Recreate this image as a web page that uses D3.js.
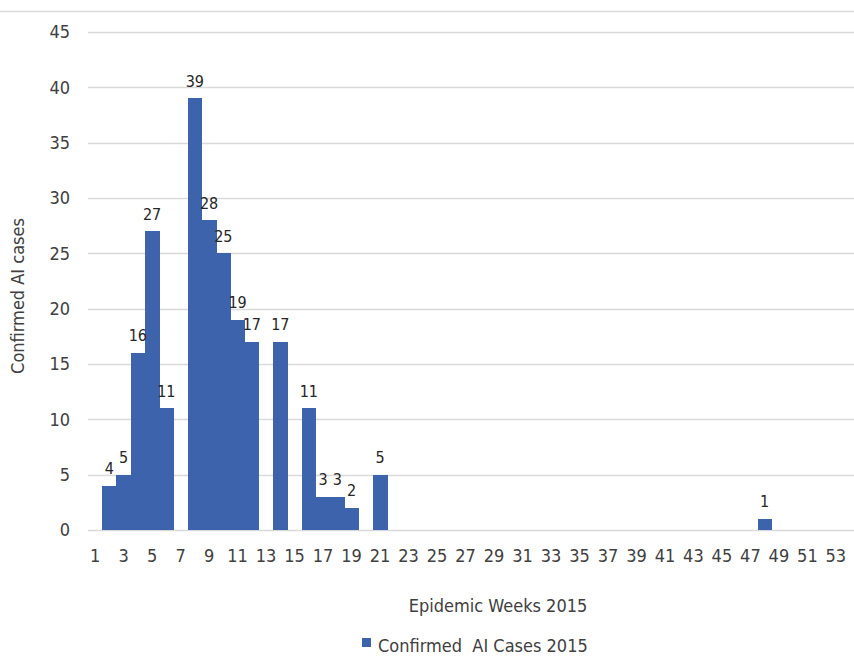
<!DOCTYPE html>
<html>
<head>
<meta charset="utf-8">
<script src="https://cdn.jsdelivr.net/npm/d3@7"></script>
<style>
  html, body { margin: 0; padding: 0; background: #fff; }
  svg { display: block; }
  text { font-family: "Liberation Sans Narrow", "DejaVu Sans Condensed", "Liberation Sans", sans-serif; fill: #404040; }
</style>
</head>
<body>
<script>
// Epidemic weeks 1..53 and confirmed avian influenza cases per week (2015)
const weeks = d3.range(1, 54);
const caseWeeks = [2, 3, 4, 5, 6, 8, 9, 10, 11, 12, 14, 16, 17, 18, 19, 21, 48];
const caseCounts = [4, 5, 16, 27, 11, 39, 28, 25, 19, 17, 17, 11, 3, 3, 2, 5, 1];
const yTicks = [0, 5, 10, 15, 20, 25, 30, 35, 40, 45];
const xTickLabels = weeks.filter(w => w % 2 === 1);
const seriesName = "Confirmed  AI Cases 2015";
const xTitle = "Epidemic Weeks 2015";
const yTitle = "Confirmed AI cases";

const data = caseWeeks.map((w, i) => ({ week: w, value: caseCounts[i] }));

const W = 854, H = 656;
const barColor = "#3c63ac";
const gridColor = "#d9d9d9";

const svg = d3.select("body").append("svg")
  .attr("width", W).attr("height", H);

// frame line at the top of the chart area
svg.append("line")
  .attr("x1", 0).attr("x2", W).attr("y1", 11.5).attr("y2", 11.5)
  .attr("stroke", gridColor).attr("stroke-width", 1.5);

const x = d3.scaleBand().domain(weeks).range([88, 843]).padding(0);
const y = d3.scaleLinear().domain([0, 45]).range([530, 32]);

// horizontal gridlines
svg.append("g").selectAll("line").data(yTicks).join("line")
  .attr("x1", 88).attr("x2", W)
  .attr("y1", d => Math.round(y(d)) + 0.5).attr("y2", d => Math.round(y(d)) + 0.5)
  .attr("stroke", gridColor).attr("stroke-width", 1.5);

// y axis labels
svg.append("g").selectAll("text").data(yTicks).join("text")
  .attr("x", 70).attr("y", d => y(d))
  .attr("dy", "0.36em")
  .attr("text-anchor", "end")
  .style("font-size", "18px")
  .text(d => d);

// x axis labels (odd weeks)
svg.append("g").selectAll("text").data(xTickLabels).join("text")
  .attr("x", d => x(d) + x.bandwidth() / 2).attr("y", 562)
  .attr("text-anchor", "middle")
  .style("font-size", "18px")
  .text(d => d);

// bars: adjacent weeks touch, so snap edges to avoid hairline seams
svg.append("g")
  .attr("shape-rendering", "crispEdges")
  .selectAll("rect").data(data).join("rect")
  .attr("x", d => x(d.week))
  .attr("y", d => y(d.value))
  .attr("width", x.bandwidth() + 0.5)
  .attr("height", d => y(0) - y(d.value))
  .attr("fill", barColor);

// value labels
svg.append("g").selectAll("text").data(data).join("text")
  .attr("x", d => x(d.week) + x.bandwidth() / 2)
  .attr("y", d => y(d.value) - 11.5)
  .attr("text-anchor", "middle")
  .style("font-size", "16px")
  .style("fill", "#262626")
  .text(d => d.value);

// axis titles
svg.append("text")
  .attr("x", 498).attr("y", 612)
  .attr("text-anchor", "middle")
  .style("font-size", "18px")
  .text(xTitle);

svg.append("text")
  .attr("transform", "translate(24,296) rotate(-90)")
  .attr("text-anchor", "middle")
  .style("font-size", "18px")
  .text(yTitle);

// legend
const legend = svg.append("g");
legend.append("rect")
  .attr("x", 362).attr("y", 638).attr("width", 9).attr("height", 9)
  .attr("fill", barColor);
legend.append("text")
  .attr("x", 378).attr("y", 652)
  .style("font-size", "18px")
  .style("white-space", "pre")
  .attr("xml:space", "preserve")
  .text(seriesName);
</script>
</body>
</html>
